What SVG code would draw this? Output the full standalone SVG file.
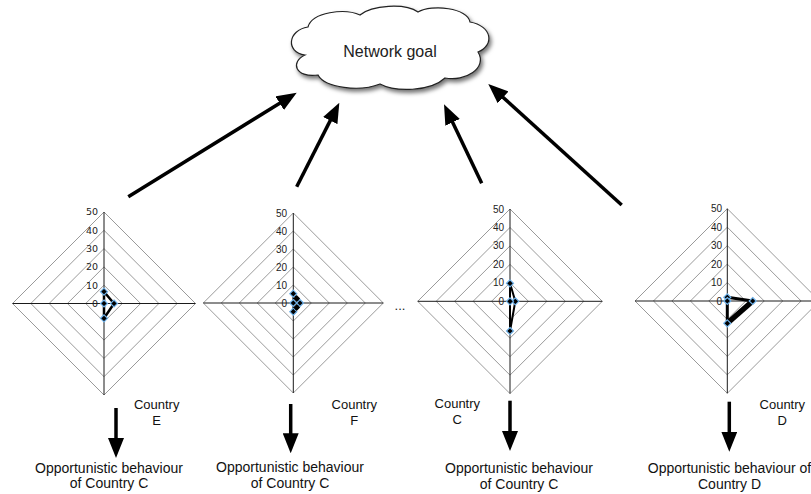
<svg xmlns="http://www.w3.org/2000/svg" width="811" height="494" viewBox="0 0 811 494">
<style>
.ring{fill:none;stroke:#9a9a9a;stroke-width:1}
.axis{fill:none;stroke:#1a1a1a;stroke-width:1}
.tick{font-family:"Liberation Sans",Arial,sans-serif;font-size:10px;fill:#222;text-anchor:end}
.tick1{font-family:"DejaVu Sans",Verdana,sans-serif;font-size:9.5px;fill:#222;text-anchor:end}
.data{fill:none;stroke:#000;stroke-linejoin:round}
.lbl{font-family:"Liberation Sans",Arial,Helvetica,sans-serif;font-size:13px;fill:#111;text-anchor:middle}
.opp{font-family:"Liberation Sans",Arial,Helvetica,sans-serif;font-size:14px;fill:#111;text-anchor:middle}
.conn{fill:none;stroke:#000;stroke-width:3.5}
.mk{fill:#000;stroke:#6fb2ea;stroke-width:1.2}
.mkb{fill:#000;stroke:none}
</style>
<defs>
<marker id="ah" markerUnits="userSpaceOnUse" markerWidth="20" markerHeight="16" viewBox="0 0 20 16" refX="10" refY="8" orient="auto">
<path d="M0,0 L20,8 L0,16 Z" fill="#000"/>
</marker>
<path id="dm" d="M0,-3.5 L3.5,0 L0,3.5 L-3.5,0 Z"/>
<filter id="sh" x="-10%" y="-10%" width="130%" height="140%">
<feDropShadow dx="2" dy="3" stdDeviation="2" flood-color="#000" flood-opacity="0.55"/>
</filter>
</defs>

<g id="cloud">
<path d="M305,55 C285,52 288,30 308,27 C312,12 345,8 360,15 C372,5 405,3 418,12 C432,4 468,8 470,22 C492,26 495,45 478,52 C488,68 465,82 445,78 C430,92 395,92 380,84 C360,92 325,88 318,75 C295,78 290,62 305,55 Z" fill="#fff" stroke="#222" stroke-width="1.2" filter="url(#sh)"/>
<text x="390" y="57" font-family="'Liberation Sans',Arial,sans-serif" font-size="16" fill="#222" text-anchor="middle">Network goal</text>
</g>

<g id="chartE">
<polygon class="ring" points="104,285.2 122.3,303.5 104,321.8 85.7,303.5"/>
<polygon class="ring" points="104,266.9 140.6,303.5 104,340.1 67.4,303.5"/>
<polygon class="ring" points="104,248.6 158.9,303.5 104,358.4 49.1,303.5"/>
<polygon class="ring" points="104,230.3 177.2,303.5 104,376.7 30.8,303.5"/>
<polygon class="ring" points="104,212 195.5,303.5 104,395 12.5,303.5"/>
<path class="axis" d="M104,212 V395 M12.5,303.5 H195.5"/>
<text class="tick1" x="98" y="215.3">50</text>
<text class="tick1" x="98" y="233.6">40</text>
<text class="tick1" x="98" y="251.9">30</text>
<text class="tick1" x="98" y="270.2">20</text>
<text class="tick1" x="98" y="288.5">10</text>
<text class="tick1" x="98" y="306.8">0</text>
<polygon class="data" stroke-width="2.5" points="104,291.7 114,303.5 104,318.3 104,303.5"/>
<use href="#dm" class="mk" x="104" y="291.7"/>
<use href="#dm" class="mk" x="114" y="303.5"/>
<use href="#dm" class="mk" x="104" y="318.3"/>
<use href="#dm" class="mk" x="104" y="303.5"/>
</g>

<g id="chartF">
<polygon class="ring" points="293.3,285 311.3,303 293.3,321 275.3,303"/>
<polygon class="ring" points="293.3,267 329.3,303 293.3,339 257.3,303"/>
<polygon class="ring" points="293.3,249 347.3,303 293.3,357 239.3,303"/>
<polygon class="ring" points="293.3,231 365.3,303 293.3,375 221.3,303"/>
<polygon class="ring" points="293.3,213 383.3,303 293.3,393 203.3,303"/>
<path class="axis" d="M293.3,213 V393 M203.3,303 H383.3"/>
<text class="tick" x="287" y="216.5">50</text>
<text class="tick" x="287" y="234.5">40</text>
<text class="tick" x="287" y="252.5">30</text>
<text class="tick" x="287" y="270.5">20</text>
<text class="tick" x="287" y="288.5">10</text>
<text class="tick" x="287" y="306.5">0</text>
<polygon class="data" stroke-width="1.5" points="293.3,293.7 300,303 293.3,311.7 293.3,303"/>
<use href="#dm" class="mk" x="293.3" y="293.7"/>
<use href="#dm" class="mk" x="300" y="303"/>
<use href="#dm" class="mk" x="293.3" y="311.7"/>
<use href="#dm" class="mk" x="293.3" y="303"/>
<use href="#dm" class="mkb" x="296.7" y="298.5"/>
<use href="#dm" class="mkb" x="296.7" y="307.5"/>
</g>

<text x="400" y="310" font-family="'Liberation Sans',Arial,sans-serif" font-size="13" fill="#222" text-anchor="middle">...</text>

<g id="chartC">
<polygon class="ring" points="510,282.84 528.46,301.3 510,319.76 491.54,301.3"/>
<polygon class="ring" points="510,264.38 546.92,301.3 510,338.22 473.08,301.3"/>
<polygon class="ring" points="510,245.92 565.38,301.3 510,356.68 454.62,301.3"/>
<polygon class="ring" points="510,227.46 583.84,301.3 510,375.14 436.16,301.3"/>
<polygon class="ring" points="510,209 602.3,301.3 510,393.6 417.7,301.3"/>
<path class="axis" d="M510,209 V393.6 M417.7,301.3 H602.3"/>
<text class="tick" x="504" y="212.5">50</text>
<text class="tick" x="504" y="231">40</text>
<text class="tick" x="504" y="249.4">30</text>
<text class="tick" x="504" y="267.9">20</text>
<text class="tick" x="504" y="286.3">10</text>
<text class="tick" x="504" y="304.8">0</text>
<polygon class="data" stroke-width="2" points="510,283.3 515.3,301.3 510,331 510,301.3"/>
<use href="#dm" class="mk" x="510" y="283.3"/>
<use href="#dm" class="mk" x="515.3" y="301.3"/>
<use href="#dm" class="mk" x="510" y="331"/>
<use href="#dm" class="mk" x="510" y="301.3"/>
</g>

<g id="chartD">
<polygon class="ring" points="727.3,282.54 745.76,301 727.3,319.46 708.84,301"/>
<polygon class="ring" points="727.3,264.08 764.22,301 727.3,337.92 690.38,301"/>
<polygon class="ring" points="727.3,245.62 782.68,301 727.3,356.38 671.92,301"/>
<polygon class="ring" points="727.3,227.16 801.14,301 727.3,374.84 653.46,301"/>
<polygon class="ring" points="727.3,208.7 819.6,301 727.3,393.3 635,301"/>
<path class="axis" d="M727.3,208.7 V393.3 M635,301 H819.6"/>
<text class="tick" x="722" y="212.2">50</text>
<text class="tick" x="722" y="230.7">40</text>
<text class="tick" x="722" y="249.1">30</text>
<text class="tick" x="722" y="267.6">20</text>
<text class="tick" x="722" y="286">10</text>
<text class="tick" x="722" y="304.5">0</text>
<path class="data" stroke-width="3" d="M727.3,301 L727.3,297.3 L752.7,301"/>
<path class="data" stroke-width="5.5" d="M752.7,301 L727.3,323.3"/>
<path class="data" stroke-width="3" d="M727.3,323.3 L727.3,301"/>
<use href="#dm" class="mk" x="727.3" y="297.3"/>
<use href="#dm" class="mk" x="752.7" y="301"/>
<use href="#dm" class="mk" x="727.3" y="323.3"/>
<use href="#dm" class="mk" x="727.3" y="301"/>
</g>

<g id="labels">
<text class="lbl" x="156.7" y="409">Country</text>
<text class="lbl" x="156.7" y="424.5">E</text>
<text class="lbl" x="354.3" y="409">Country</text>
<text class="lbl" x="354.3" y="424.7">F</text>
<text class="lbl" x="457.3" y="408.3">Country</text>
<text class="lbl" x="457.3" y="424.3">C</text>
<text class="lbl" x="782.3" y="409">Country</text>
<text class="lbl" x="782.3" y="424.7">D</text>
</g>

<g id="outcomes">
<text class="opp" x="109" y="472.7">Opportunistic behaviour</text>
<text class="opp" x="109" y="488.3">of Country C</text>
<text class="opp" x="290" y="471.7">Opportunistic behaviour</text>
<text class="opp" x="290" y="487.7">of Country C</text>
<text class="opp" x="519" y="473.3">Opportunistic behaviour</text>
<text class="opp" x="519" y="489">of Country C</text>
<text class="opp" x="729.5" y="473">Opportunistic behaviour of</text>
<text class="opp" x="729.5" y="488.6">Country D</text>
</g>

<g id="connectors">
<line class="conn" x1="128.3" y1="196.7" x2="288.2" y2="98" marker-end="url(#ah)"/>
<line class="conn" x1="296.7" y1="186.7" x2="334.8" y2="111.6" marker-end="url(#ah)"/>
<line class="conn" x1="481.7" y1="183.3" x2="448.3" y2="113.3" marker-end="url(#ah)"/>
<line class="conn" x1="621.7" y1="205" x2="495.7" y2="90.7" marker-end="url(#ah)"/>
<line class="conn" x1="116" y1="408" x2="116" y2="448" marker-end="url(#ah)"/>
<line class="conn" x1="290.7" y1="404" x2="290.7" y2="443.3" marker-end="url(#ah)"/>
<line class="conn" x1="510" y1="400.7" x2="510" y2="441" marker-end="url(#ah)"/>
<line class="conn" x1="729.3" y1="401.7" x2="729.3" y2="441.7" marker-end="url(#ah)"/>
</g>
</svg>
